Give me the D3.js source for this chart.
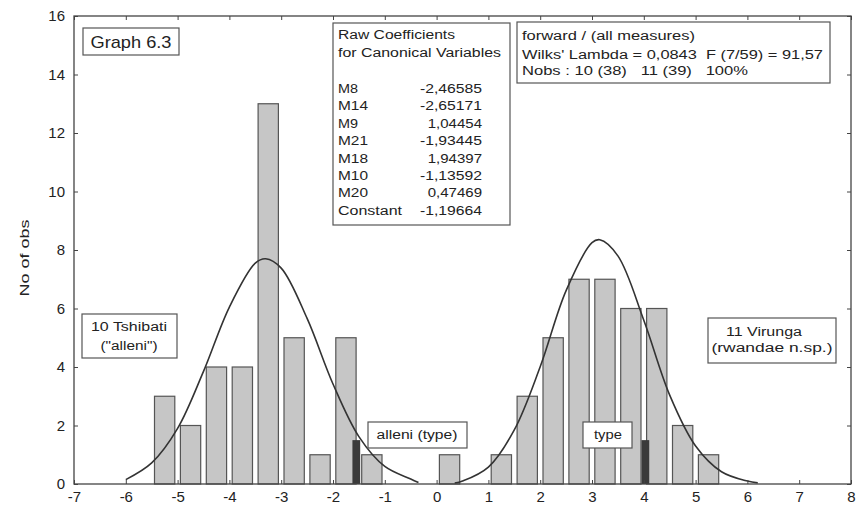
<!DOCTYPE html>
<html>
<head>
<meta charset="utf-8">
<script src="https://cdn.jsdelivr.net/npm/d3@7/dist/d3.min.js"></script>
<style>
  html, body { margin: 0; padding: 0; background: #fff; }
  svg { display: block; }
  text { font-family: "Liberation Sans", Arial, sans-serif; fill: #222; white-space: pre; }
</style>
</head>
<body>
<script>
// ---- data ----
const xTicks = [-7, -6, -5, -4, -3, -2, -1, 0, 1, 2, 3, 4, 5, 6, 7, 8];
const yTicks = [0, 2, 4, 6, 8, 10, 12, 14, 16];
const binWidth = 0.5;
const binStarts = [-5.5, -5, -4.5, -4, -3.5, -3, -2.5, -2, -1.5, 0, 1, 1.5, 2, 2.5, 3, 3.5, 4, 4.5, 5];
const binCounts = [3, 2, 4, 4, 13, 5, 1, 5, 1, 1, 1, 3, 5, 7, 7, 6, 6, 2, 1];
const typeX = [-1.55, 4.03];
const typeCount = [1.5, 1.5];
const leftCurveX = [-6, -5.5, -5, -4.5, -4, -3.5, -3.3, -3, -2.5, -2, -1.5, -1, -0.5, -0.35];
const leftCurveY = [0.15, 0.72, 1.9, 3.85, 6.05, 7.55, 7.7, 7.38, 5.66, 3.42, 1.62, 0.6, 0.17, 0.05];
const rightCurveX = [0.35, 0.5, 1, 1.5, 2, 2.5, 3, 3.15, 3.5, 4, 4.5, 5, 5.5, 6, 6.2];
const rightCurveY = [0.03, 0.1, 0.58, 1.85, 4.01, 6.61, 8.25, 8.35, 7.8, 5.6, 3.04, 1.3, 0.42, 0.1, 0.04];
const coefNames = ["M8", "M14", "M9", "M21", "M18", "M10", "M20", "Constant"];
const coefValues = ["-2,46585", "-2,65171", "1,04454", "-1,93445", "1,94397", "-1,13592", "0,47469", "-1,19664"];

// ---- layout ----
const W = 862, H = 510;
const L = 74, R = 851, T = 16, B = 484;
const svg = d3.select("body").append("svg").attr("width", W).attr("height", H);
const x = d3.scaleLinear().domain([-7, 8]).range([L, R]);
const y = d3.scaleLinear().domain([0, 16]).range([B, T]);
const ink = "#444";

// bars
svg.append("g").selectAll("rect").data(binStarts.map((s, i) => ({ s, c: binCounts[i] })))
  .join("rect")
  .attr("x", d => x(d.s) + 2.8)
  .attr("width", d => x(d.s + binWidth) - x(d.s) - 5.6)
  .attr("y", d => y(d.c))
  .attr("height", d => y(0) - y(d.c))
  .attr("fill", "#c6c6c6")
  .attr("stroke", "#555")
  .attr("stroke-width", 1.2);

// type markers
svg.append("g").selectAll("rect").data(typeX.map((v, i) => ({ v, c: typeCount[i] })))
  .join("rect")
  .attr("x", d => x(d.v - 0.075))
  .attr("width", d => x(d.v + 0.075) - x(d.v - 0.075))
  .attr("y", d => y(d.c))
  .attr("height", d => y(0) - y(d.c))
  .attr("fill", "#3a3a3a");

// curves
const line = d3.line().x(d => x(d[0])).y(d => y(d[1])).curve(d3.curveCatmullRom.alpha(0.5));
[[leftCurveX, leftCurveY], [rightCurveX, rightCurveY]].forEach(([xs, ys]) => {
  svg.append("path")
    .attr("d", line(xs.map((v, i) => [v, ys[i]])))
    .attr("fill", "none").attr("stroke", "#333").attr("stroke-width", 1.6);
});

// axes (inward ticks on all sides)
const fs = 15;
const fmt = d => String(d);
const ax = svg.append("g").attr("transform", `translate(0,${B})`)
  .call(d3.axisBottom(x).tickValues(xTicks).tickFormat(fmt).tickSize(-4).tickSizeOuter(0).tickPadding(7));
const ay = svg.append("g").attr("transform", `translate(${L},0)`)
  .call(d3.axisLeft(y).tickValues(yTicks).tickFormat(fmt).tickSize(-4).tickSizeOuter(0).tickPadding(9));
const at = svg.append("g").attr("transform", `translate(0,${T})`)
  .call(d3.axisTop(x).tickValues(xTicks).tickSize(-4).tickSizeOuter(0).tickFormat(""));
const ar = svg.append("g").attr("transform", `translate(${R},0)`)
  .call(d3.axisRight(y).tickValues(yTicks).tickSize(-4).tickSizeOuter(0).tickFormat(""));
[ax, ay, at, ar].forEach(g => {
  g.select(".domain").remove();
  g.selectAll("line").attr("stroke", ink);
  g.selectAll("text").style("font-size", fs + "px").attr("fill", "#222")
    .style("font-family", '"Liberation Sans", Arial, sans-serif');
});

// frame
svg.append("rect").attr("x", L).attr("y", T).attr("width", R - L).attr("height", B - T)
  .attr("fill", "none").attr("stroke", ink).attr("stroke-width", 1.3);

// y axis label
svg.append("text").attr("transform", "translate(24,258) rotate(-90)")
  .attr("text-anchor", "middle").attr("dominant-baseline", "central").style("font-size", "13px")
  .attr("textLength", 77).attr("lengthAdjust", "spacingAndGlyphs")
  .text("No of obs");

// boxes
function box(x0, y0, x1, y1) {
  svg.append("rect").attr("x", x0).attr("y", y0).attr("width", x1 - x0).attr("height", y1 - y0)
    .attr("fill", "#fff").attr("stroke", "#555").attr("stroke-width", 1.2);
}
function txt(s, px, py, size, len, anchor) {
  const t = svg.append("text").attr("x", px).attr("y", py)
    .attr("text-anchor", anchor || "start").attr("dominant-baseline", "central")
    .attr("xml:space", "preserve")
    .style("font-size", size + "px").text(s);
  if (len) t.attr("textLength", len).attr("lengthAdjust", "spacingAndGlyphs");
  return t;
}

box(83, 28, 179, 55);
txt("Graph 6.3", 131, 42, 17, 81, "middle");

box(333, 23, 510, 225);
txt("Raw Coefficients", 338, 35, 12, 117);
txt("for Canonical Variables", 338, 53, 12, 163);
coefNames.forEach((n, i) => {
  txt(n, 338, 89 + i * 17.4, 12, n.length > 3 ? 64 : n.length * 10);
  txt(coefValues[i], 482, 89 + i * 17.4, 12, coefValues[i].length * 7.75, "end");
});

box(517, 22, 830, 83);
txt("forward / (all measures)", 522, 36, 12, 173);
txt("Wilks' Lambda = 0,0843  F (7/59) = 91,57", 522, 55, 12, 301);
txt("Nobs : 10 (38)   11 (39)   100%", 522, 71, 12, 226);

box(82, 314, 177, 358);
txt("10 Tshibati", 129, 327, 12.5, 76, "middle");
txt('("alleni")', 129, 346, 12.5, 57, "middle");

box(368, 422, 467, 448);
txt("alleni (type)", 417, 435, 12.5, 81, "middle");

box(583, 422, 632, 448);
txt("type", 608, 435, 12.5, 28, "middle");

box(708, 318, 836, 363);
txt("11 Virunga", 764, 332, 12.5, 76, "middle");
txt("(rwandae n.sp.)", 772, 348, 12.5, 121, "middle");
</script>
</body>
</html>
